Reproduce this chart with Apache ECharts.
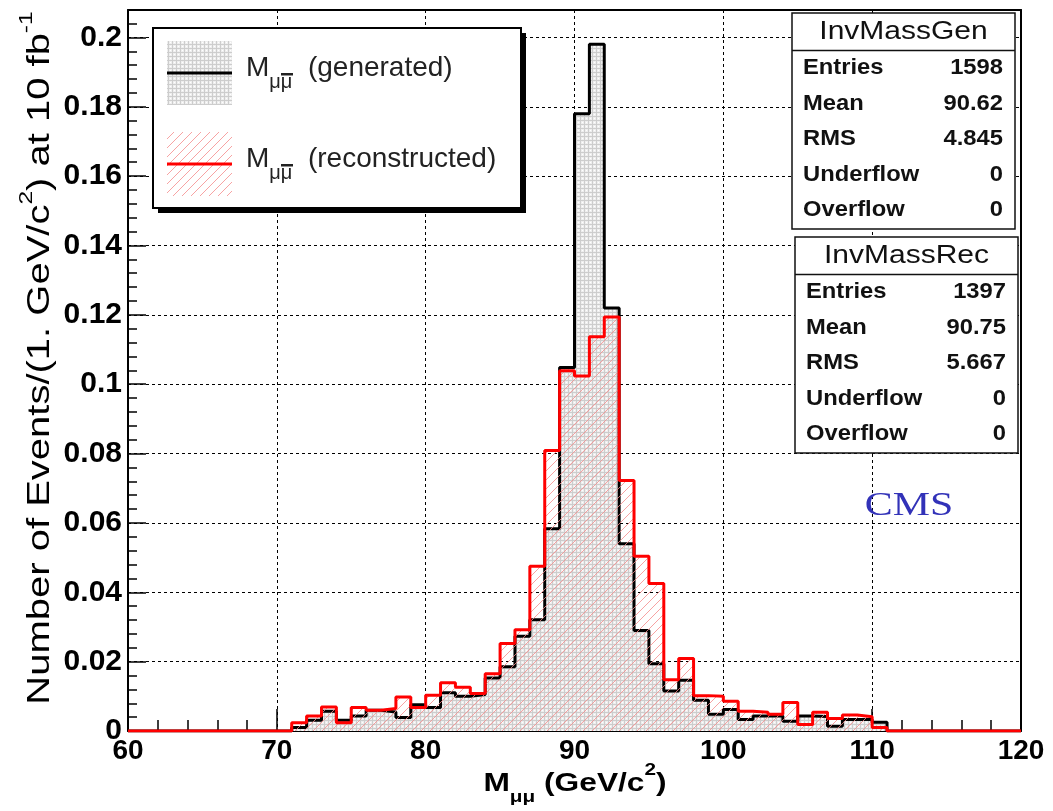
<!DOCTYPE html>
<html><head><meta charset="utf-8">
<script src="https://cdn.jsdelivr.net/npm/echarts@6/dist/echarts.min.js"></script>
<style>html,body{margin:0;padding:0;background:#fff}#c{width:1053px;height:811px}</style>
</head><body><div id="c"></div><script>
// ---- data (bin contents, 1 GeV bins from 60 to 120) ----
const X_MIN = 60, X_MAX = 120, BIN_WIDTH = 1;
const genValues = [
  0,0,0,0,0,0,0,0,0,0, 0,
  0.0010,0.0031,0.0057,0.0031,0.0043,0.0060,0.0055,0.0039,0.0076,0.0068,
  0.0110,0.0100,0.0105,0.0153,0.0185,0.0273,0.0321,0.0583,0.1048,0.1780,
  0.1980,0.1220,0.0540,0.0290,0.0194,0.0115,0.0146,0.0089,0.0048,0.0062,
  0.0033,0.0043,0.0043,0.0028,0.0043,0.0042,0.0014,0.0033,0.0033,0.0025,
  0,0,0,0,0,0,0,0,0
];
const recValues = [
  0,0,0,0,0,0,0,0,0,0, 0,
  0.0024,0.0043,0.0069,0.0024,0.0068,0.0060,0.0065,0.0098,0.0068,0.0103,
  0.0139,0.0126,0.0108,0.0165,0.0252,0.0292,0.0475,0.0809,0.1039,0.1024,
  0.1137,0.1194,0.0722,0.0504,0.0425,0.0148,0.0209,0.0102,0.0100,0.0086,
  0.0057,0.0054,0.0048,0.0082,0.0019,0.0054,0.0036,0.0046,0.0041,0.0010,
  0,0,0,0,0,0,0,0,0
];
const Y_MAX = 0.2079, Y_TICK = 0.02, X_TICK = 10;
const genStatsTitle = 'InvMassGen';
const recStatsTitle = 'InvMassRec';
const statLabels = ['Entries','Mean','RMS','Underflow','Overflow'];
const genStatValues = ['1598','90.62','4.845','0','0'];
const recStatValues = ['1397','90.75','5.667','0','0'];
const legendTexts = ['(generated)','(reconstructed)'];

// ---- patterns ----
function gridPattern(){
  const c = document.createElement('canvas'); c.width = 4; c.height = 4;
  const g = c.getContext('2d');
  g.fillStyle = 'rgba(238,238,238,1)'; g.fillRect(0,0,4,4);
  g.fillStyle = 'rgba(205,205,205,1)'; g.fillRect(0,0,4,1); g.fillRect(0,0,1,4);
  g.fillStyle = 'rgba(255,255,255,1)'; g.fillRect(2,2,1,1);
  return {image: c, repeat: 'repeat'};
}
function hatchPattern(){
  const s = 9;
  const c = document.createElement('canvas'); c.width = s; c.height = s;
  const g = c.getContext('2d');
  g.strokeStyle = 'rgba(245,140,140,0.8)'; g.lineWidth = 1;
  g.beginPath();
  g.moveTo(0, s); g.lineTo(s, 0);
  g.moveTo(-1, 1); g.lineTo(1, -1);
  g.moveTo(s-1, s+1); g.lineTo(s+1, s-1);
  g.stroke();
  return {image: c, repeat: 'repeat'};
}
const genFill = gridPattern();
const recFill = hatchPattern();

function stepData(vals){
  const d = vals.map((v,i) => [X_MIN + i*BIN_WIDTH, v]);
  d.push([X_MAX, vals[vals.length-1]]);
  return d;
}

const FONT = 'Liberation Sans, Arial, sans-serif';

// ---- graphic helpers ----
function statsBox(x, y, title, values){
  const w = 223, h = 216, els = [];
  els.push({type:'rect', shape:{x, y, width:w, height:h}, style:{fill:'#fff', stroke:'#111', lineWidth:1.5}});
  els.push({type:'line', shape:{x1:x, y1:y+37.5, x2:x+w, y2:y+37.5}, style:{stroke:'#111', lineWidth:1.5}});
  els.push({type:'text', x:x+w/2, y:y+19, scaleX:1.2,
    style:{text:title, font:'25px '+FONT, fill:'#111', align:'center', verticalAlign:'middle'}});
  statLabels.forEach((lab,k) => {
    const ry = y + 55 + 35.6*k;
    els.push({type:'text', x:x+11, y:ry, scaleX:1.08,
      style:{text:lab, font:'bold 22px '+FONT, fill:'#111', align:'left', verticalAlign:'middle'}});
    els.push({type:'text', x:x+w-12, y:ry, scaleX:1.08,
      style:{text:values[k], font:'bold 22px '+FONT, fill:'#111', align:'right', verticalAlign:'middle'}});
  });
  return els;
}
const legRich = {
  m:{fontSize:28, fontFamily:FONT, lineHeight:48, fill:'#222'},
  s:{fontSize:20, fontFamily:FONT, lineHeight:16, verticalAlign:'bottom', fill:'#222'},
  t:{fontSize:28, fontFamily:FONT, lineHeight:48, fill:'#222'}
};
function legendEntry(y, fill, color, label, textY){
  return [
    {type:'rect', shape:{x:167, y:y-32, width:65, height:64}, style:{fill:fill}},
    {type:'line', shape:{x1:167, y1:y, x2:232, y2:y}, style:{stroke:color, lineWidth:3}},
    {type:'text', x:246, y:textY, style:{text:'{m|M}{s|μμ}{t|  '+label+'}', rich:legRich,
      align:'left', verticalAlign:'middle'}},
    {type:'rect', shape:{x:281, y:textY+5, width:12, height:2.5}, style:{fill:'#222'}}
  ];
}

const graphics = [
  {type:'rect', shape:{x:158, y:33, width:368, height:180}, style:{fill:'#000'}},
  {type:'rect', shape:{x:153, y:28, width:368, height:180}, style:{fill:'#fff', stroke:'#000', lineWidth:2}},
  ...legendEntry(73, genFill, '#000', legendTexts[0], 68),
  ...legendEntry(164, recFill, '#ff0000', legendTexts[1], 159),
  ...statsBox(792, 13, genStatsTitle, genStatValues),
  ...statsBox(795, 237, recStatsTitle, recStatValues),
  {type:'text', x:909, y:506, scaleX:1.27,
    style:{text:'CMS', font:'33px Liberation Serif, Times New Roman, serif', fill:'#3232b8', align:'center', verticalAlign:'middle'}},
  // axis titles
  {type:'text', x:575, y:784, scaleX:1.22,
    style:{text:'{b|M}{s|μμ}{b| (GeV/c}{p|2}{b|)}', align:'center', verticalAlign:'middle',
      rich:{
        b:{fontSize:26, fontWeight:'bold', fontFamily:FONT, lineHeight:44, fill:'#000'},
        s:{fontSize:17, fontWeight:'bold', fontFamily:FONT, lineHeight:16, verticalAlign:'bottom', fill:'#000'},
        p:{fontSize:17, fontWeight:'bold', fontFamily:FONT, lineHeight:16, verticalAlign:'top', fill:'#000'}
      }}},
  {type:'text', x:40, y:358, rotation:Math.PI/2, scaleX:1.29,
    style:{text:'{b|Number of Events/(1. GeV/c}{p|2}{b|) at 10 fb}{p|-1}', align:'center', verticalAlign:'middle',
      rich:{
        b:{fontSize:31, fontFamily:FONT, lineHeight:46, fill:'#000'},
        p:{fontSize:19, fontFamily:FONT, lineHeight:18, verticalAlign:'top', fill:'#000'}
      }}}
].map(e => Object.assign({z:100}, e));

const chart = echarts.init(document.getElementById('c'), null, {renderer:'canvas'});
const axisLineStyle = {color:'#000', width:2};
chart.setOption({
  animation:false,
  backgroundColor:'#fff',
  grid:{left:128, right:32, top:10, bottom:80},
  xAxis:[{
    type:'value', min:X_MIN, max:X_MAX, interval:X_TICK, position:'bottom',
    axisLine:{show:true, onZero:false, lineStyle:axisLineStyle},
    axisTick:{show:true, inside:true, length:22, lineStyle:{color:'#000', width:1.5}},
    minorTick:{show:true, splitNumber:5, length:11, lineStyle:{color:'#000', width:1.5}},
    splitLine:{show:true, lineStyle:{color:'#000', type:[3,3], width:1}},
    axisLabel:{color:'#000', fontSize:28, fontWeight:'bold', fontFamily:FONT, margin:6}
  },{
    type:'value', min:X_MIN, max:X_MAX, interval:X_TICK, position:'top',
    axisLine:{show:true, onZero:false, lineStyle:axisLineStyle},
    axisTick:{show:false}, axisLabel:{show:false}, splitLine:{show:false}
  }],
  yAxis:[{
    type:'value', min:0, max:Y_MAX, interval:Y_TICK, position:'left',
    axisLine:{show:true, onZero:false, lineStyle:axisLineStyle},
    axisTick:{show:true, inside:true, length:18, lineStyle:{color:'#000', width:1.5}},
    minorTick:{show:true, splitNumber:5, length:9, lineStyle:{color:'#000', width:1.5}},
    splitLine:{show:true, lineStyle:{color:'#000', type:[3,3], width:1}},
    axisLabel:{color:'#000', fontSize:30, fontWeight:'bold', fontFamily:FONT, margin:6,
      formatter:(v) => {
        const r = v / Y_TICK;
        if (Math.abs(r - Math.round(r)) > 1e-6) return '';
        return String(+v.toFixed(2));
      }}
  },{
    type:'value', min:0, max:Y_MAX, interval:Y_TICK, position:'right',
    axisLine:{show:true, onZero:false, lineStyle:axisLineStyle},
    axisTick:{show:false}, axisLabel:{show:false}, splitLine:{show:false}
  }],
  series:[{
    type:'line', name:'generated', step:'end', symbol:'none', xAxisIndex:0, yAxisIndex:0,
    data:stepData(genValues),
    lineStyle:{color:'#000', width:3}, itemStyle:{color:'#000'},
    areaStyle:{color:genFill, opacity:1}, z:2
  },{
    type:'line', name:'reconstructed', step:'end', symbol:'none', xAxisIndex:0, yAxisIndex:0,
    data:stepData(recValues),
    lineStyle:{color:'#ff0000', width:3}, itemStyle:{color:'#ff0000'},
    areaStyle:{color:recFill, opacity:1}, z:3
  }],
  graphic:graphics
});
</script></body></html>
